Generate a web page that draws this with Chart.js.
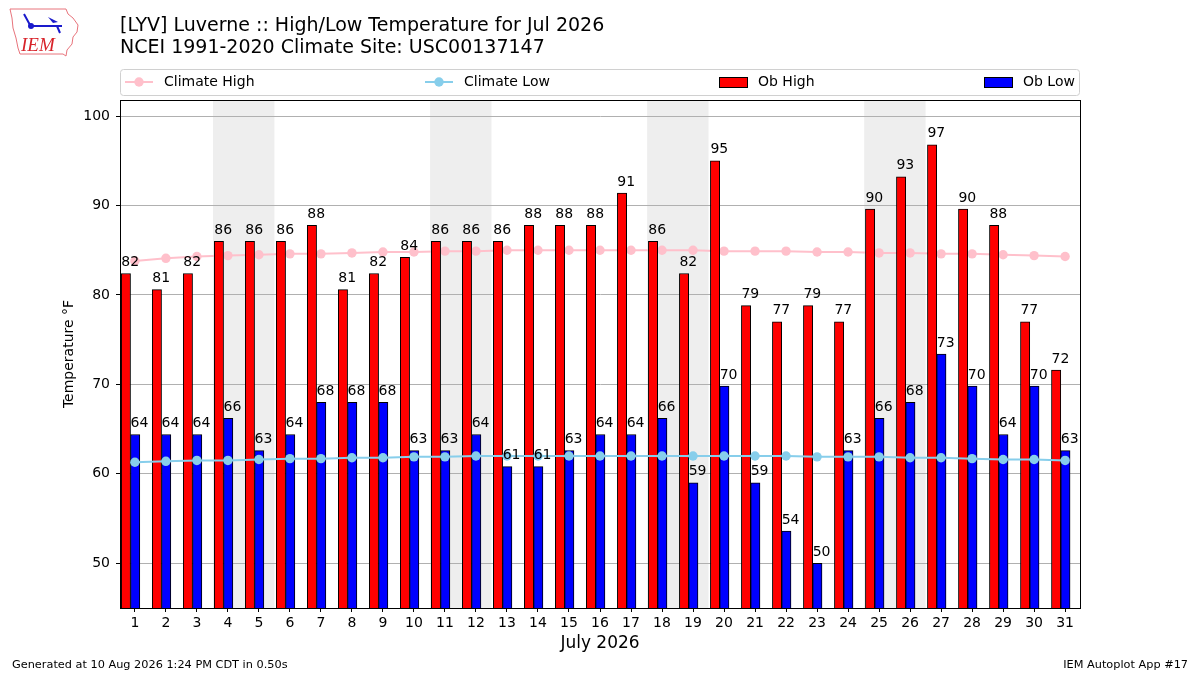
<!DOCTYPE html>
<html>
<head>
<meta charset="utf-8">
<title>LYV High/Low Temperature Jul 2026</title>
<script src="https://cdn.jsdelivr.net/npm/chart.js@4/dist/chart.umd.min.js"></script>
<style>
  html, body { margin: 0; padding: 0; background: #fff; }
  canvas { display: block; }
</style>
</head>
<body>
<canvas id="chart" width="1200" height="675"></canvas>
<script>
// Data
const days = [1, 2, 3, 4, 5, 6, 7, 8, 9, 10, 11, 12, 13, 14, 15, 16, 17, 18, 19, 20, 21, 22, 23, 24, 25, 26, 27, 28, 29, 30, 31];
const obHigh = [82.4, 80.6, 82.4, 86.0, 86.0, 86.0, 87.8, 80.6, 82.4, 84.2, 86.0, 86.0, 86.0, 87.8, 87.8, 87.8,
    91.4, 86.0, 82.4, 95.0, 78.8, 77.0, 78.8, 77.0, 89.6, 93.2, 96.8, 89.6, 87.8, 77.0, 71.6];
const obLow = [64.4, 64.4, 64.4, 66.2, 62.6, 64.4, 68.0, 68.0, 68.0, 62.6, 62.6, 64.4, 60.8, 60.8, 62.6, 64.4,
    64.4, 66.2, 59.0, 69.8, 59.0, 53.6, 50.0, 62.6, 66.2, 68.0, 73.4, 69.8, 64.4, 69.8, 62.6];
const climateHigh = [83.8, 84.1, 84.3, 84.4, 84.5, 84.6, 84.6, 84.7, 84.8, 84.8, 84.9, 84.9, 85.0, 85.0, 85.0, 85.0,
    85.0, 85.0, 85.0, 84.9, 84.9, 84.9, 84.8, 84.8, 84.7, 84.7, 84.6, 84.6, 84.5, 84.4, 84.3];
const climateLow = [61.3, 61.4, 61.5, 61.5, 61.6, 61.7, 61.7, 61.8, 61.8, 61.9, 61.9, 62.0, 62.0, 62.0, 62.0, 62.0,
    62.0, 62.0, 62.0, 62.0, 62.0, 62.0, 61.9, 61.9, 61.9, 61.8, 61.8, 61.7, 61.6, 61.6, 61.5];
const weekendStarts = [4, 11, 18, 25];
const yTicks = [50, 60, 70, 80, 90, 100];

const FONT = "'DejaVu Sans', 'Liberation Sans', sans-serif";

// bars sit left of the day tick, high then low
const HIGH_SHIFT = -0.29;
const LOW_SHIFT = 0.01;

// Background, weekend shading
const backgroundPlugin = {
    id: 'background',
    beforeDraw(chart) {
        const ctx = chart.ctx;
        const area = chart.chartArea;
        const xs = chart.scales.x;
        ctx.save();
        ctx.fillStyle = '#ffffff';
        ctx.fillRect(0, 0, chart.width, chart.height);
        ctx.fillStyle = '#eeeeee';
        weekendStarts.forEach(d => {
            const x1 = xs.getPixelForValue(d - 0.48);
            const x2 = xs.getPixelForValue(d + 1.5);
            ctx.fillRect(x1, area.top, x2 - x1, area.bottom - area.top);
        });
        ctx.restore();
    }
};

// Value labels above bars
const labelPlugin = {
    id: 'barLabels',
    afterDatasetsDraw(chart) {
        const ctx = chart.ctx;
        ctx.save();
        ctx.font = '14px ' + FONT;
        ctx.fillStyle = '#000';
        ctx.textAlign = 'left';
        ctx.textBaseline = 'alphabetic';
        chart.data.datasets.forEach((ds, i) => {
            if (ds.type !== 'bar') return;
            const meta = chart.getDatasetMeta(i);
            meta.data.forEach((bar, j) => {
                const v = ds.data[j].y;
                ctx.fillText(String(Math.round(v)), bar.x - bar.width / 2, bar.y - 7.5);
            });
        });
        ctx.restore();
    }
};

// Titles, legend, frame, logo, footer
function drawLogo(ctx) {
    ctx.save();
    // state outline
    ctx.strokeStyle = '#e8747c';
    ctx.lineWidth = 1;
    ctx.beginPath();
    ctx.moveTo(10, 9);
    ctx.lineTo(66, 9);
    ctx.lineTo(68, 14);
    ctx.lineTo(73, 18);
    ctx.lineTo(78, 25);
    ctx.lineTo(77, 32);
    ctx.lineTo(73, 37);
    ctx.lineTo(72, 44);
    ctx.lineTo(67, 50);
    ctx.lineTo(66, 56);
    ctx.lineTo(63, 54);
    ctx.lineTo(20, 54);
    ctx.lineTo(18, 48);
    ctx.lineTo(16, 38);
    ctx.lineTo(13, 28);
    ctx.lineTo(12, 18);
    ctx.closePath();
    ctx.stroke();
    // station symbol
    ctx.strokeStyle = '#1a1acc';
    ctx.fillStyle = '#1a1acc';
    ctx.lineWidth = 2;
    ctx.beginPath();
    ctx.moveTo(31, 26);
    ctx.lineTo(62, 26);
    ctx.moveTo(24, 14);
    ctx.lineTo(30, 25);
    ctx.moveTo(57, 26);
    ctx.lineTo(60, 33);
    ctx.stroke();
    ctx.beginPath();
    ctx.moveTo(48, 17);
    ctx.lineTo(58, 22);
    ctx.lineTo(53, 23);
    ctx.closePath();
    ctx.fill();
    ctx.beginPath();
    ctx.arc(31, 26, 3, 0, Math.PI * 2);
    ctx.fill();
    // letters
    ctx.fillStyle = '#d8232a';
    ctx.font = 'italic 19px "Liberation Serif", "DejaVu Serif", serif';
    ctx.textBaseline = 'alphabetic';
    ctx.fillText('IEM', 21, 51);
    ctx.restore();
}

function drawLegend(ctx) {
    ctx.save();
    ctx.fillStyle = 'rgba(255,255,255,0.8)';
    ctx.strokeStyle = '#d0d0d0';
    ctx.lineWidth = 1;
    ctx.beginPath();
    ctx.roundRect(120.5, 69.5, 959, 26, 3);
    ctx.fill();
    ctx.stroke();

    const yMid = 82;
    ctx.font = '14px ' + FONT;
    ctx.textBaseline = 'middle';
    ctx.textAlign = 'left';

    // line entries
    [[125, 'pink', 'Climate High'], [425, 'skyblue', 'Climate Low']].forEach(([x, col, txt]) => {
        ctx.strokeStyle = col;
        ctx.fillStyle = col;
        ctx.lineWidth = 2;
        ctx.beginPath();
        ctx.moveTo(x, yMid);
        ctx.lineTo(x + 28, yMid);
        ctx.stroke();
        ctx.beginPath();
        ctx.arc(x + 14, yMid, 4.7, 0, Math.PI * 2);
        ctx.fill();
        ctx.fillStyle = '#000';
        ctx.fillText(txt, x + 39, yMid);
    });

    // bar entries
    [[719.5, 'red', 'Ob High'], [984.5, 'blue', 'Ob Low']].forEach(([x, col, txt]) => {
        ctx.fillStyle = col;
        ctx.strokeStyle = '#000';
        ctx.lineWidth = 1;
        ctx.fillRect(x, 77.5, 28, 10);
        ctx.strokeRect(x, 77.5, 28, 10);
        ctx.fillStyle = '#000';
        ctx.fillText(txt, x + 38.5, yMid);
    });
    ctx.restore();
}

const decorPlugin = {
    id: 'decor',
    afterDraw(chart) {
        const ctx = chart.ctx;
        const area = chart.chartArea;
        ctx.save();

        // frame
        ctx.strokeStyle = '#000';
        ctx.lineWidth = 1;
        ctx.strokeRect(Math.round(area.left) + 0.5, Math.round(area.top) + 0.5,
            Math.round(area.right - area.left), Math.round(area.bottom - area.top));

        // title
        ctx.fillStyle = '#000';
        ctx.textAlign = 'left';
        ctx.textBaseline = 'alphabetic';
        ctx.font = '19px ' + FONT;
        ctx.fillText('[LYV] Luverne :: High/Low Temperature for Jul 2026', 120, 31);
        ctx.fillText('NCEI 1991-2020 Climate Site: USC00137147', 120, 53);

        // axis titles
        ctx.font = '17px ' + FONT;
        ctx.textAlign = 'center';
        ctx.textBaseline = 'middle';
        ctx.fillText('July 2026', (area.left + area.right) / 2, 644);

        ctx.font = '14px ' + FONT;
        ctx.translate(69, (area.top + area.bottom) / 2);
        ctx.rotate(-Math.PI / 2);
        ctx.fillText('Temperature °F', 0, 0);
        ctx.setTransform(1, 0, 0, 1, 0, 0);

        // footer
        ctx.font = '11.3px ' + FONT;
        ctx.textAlign = 'left';
        ctx.fillText('Generated at 10 Aug 2026 1:24 PM CDT in 0.50s', 12, 665);
        ctx.textAlign = 'right';
        ctx.fillText('IEM Autoplot App #17', 1188, 665);

        ctx.restore();
        drawLegend(ctx);
        drawLogo(ctx);
    }
};

const ctx = document.getElementById('chart').getContext('2d');
new Chart(ctx, {
    type: 'bar',
    data: {
        datasets: [
            {
                type: 'line',
                label: 'Climate Low',
                data: days.map((d, i) => ({ x: d, y: climateLow[i] })),
                borderColor: 'skyblue',
                backgroundColor: 'skyblue',
                borderWidth: 2,
                pointRadius: 4.7,
                pointBorderWidth: 0,
                pointBackgroundColor: 'skyblue',
                order: 0
            },
            {
                type: 'bar',
                label: 'Ob Low',
                data: days.map((d, i) => ({ x: d + LOW_SHIFT, y: obLow[i] })),
                backgroundColor: 'blue',
                borderColor: '#000',
                borderWidth: 1,
                grouped: false,
                barPercentage: 1,
                categoryPercentage: 1,
                order: 1
            },
            {
                type: 'bar',
                label: 'Ob High',
                data: days.map((d, i) => ({ x: d + HIGH_SHIFT, y: obHigh[i] })),
                backgroundColor: 'red',
                borderColor: '#000',
                borderWidth: 1,
                grouped: false,
                barPercentage: 1,
                categoryPercentage: 1,
                order: 2
            },
            {
                type: 'line',
                label: 'Climate High',
                data: days.map((d, i) => ({ x: d, y: climateHigh[i] })),
                borderColor: 'pink',
                backgroundColor: 'pink',
                borderWidth: 2,
                pointRadius: 4.7,
                pointBorderWidth: 0,
                pointBackgroundColor: 'pink',
                order: 3
            }
        ]
    },
    options: {
        responsive: false,
        animation: false,
        devicePixelRatio: 1,
        layout: { padding: { left: 0, right: 120, top: 100, bottom: 0 } },
        plugins: {
            legend: { display: false },
            tooltip: { enabled: false },
            title: { display: false }
        },
        scales: {
            x: {
                type: 'linear',
                min: 0.52,
                max: 31.48,
                offset: false,
                afterBuildTicks: scale => { scale.ticks = days.map(d => ({ value: d })); },
                afterFit: scale => { scale.height = 67; },
                grid: { display: true, drawOnChartArea: false, drawTicks: true, tickLength: 4, tickColor: '#000', offset: false },
                border: { display: true, color: '#000' },
                ticks: {
                    autoSkip: false,
                    maxRotation: 0,
                    padding: 3,
                    color: '#000',
                    font: { family: FONT, size: 14 }
                }
            },
            y: {
                type: 'linear',
                min: 45,
                max: 101.8,
                afterBuildTicks: scale => { scale.ticks = yTicks.map(v => ({ value: v })); },
                afterFit: scale => { scale.width = 120; },
                grid: { color: '#b0b0b0', lineWidth: 1, tickLength: 4, tickColor: '#000' },
                border: { display: true, color: '#000' },
                ticks: {
                    padding: 6,
                    color: '#000',
                    font: { family: FONT, size: 14 }
                }
            }
        }
    },
    plugins: [backgroundPlugin, labelPlugin, decorPlugin]
});
</script>
</body>
</html>
